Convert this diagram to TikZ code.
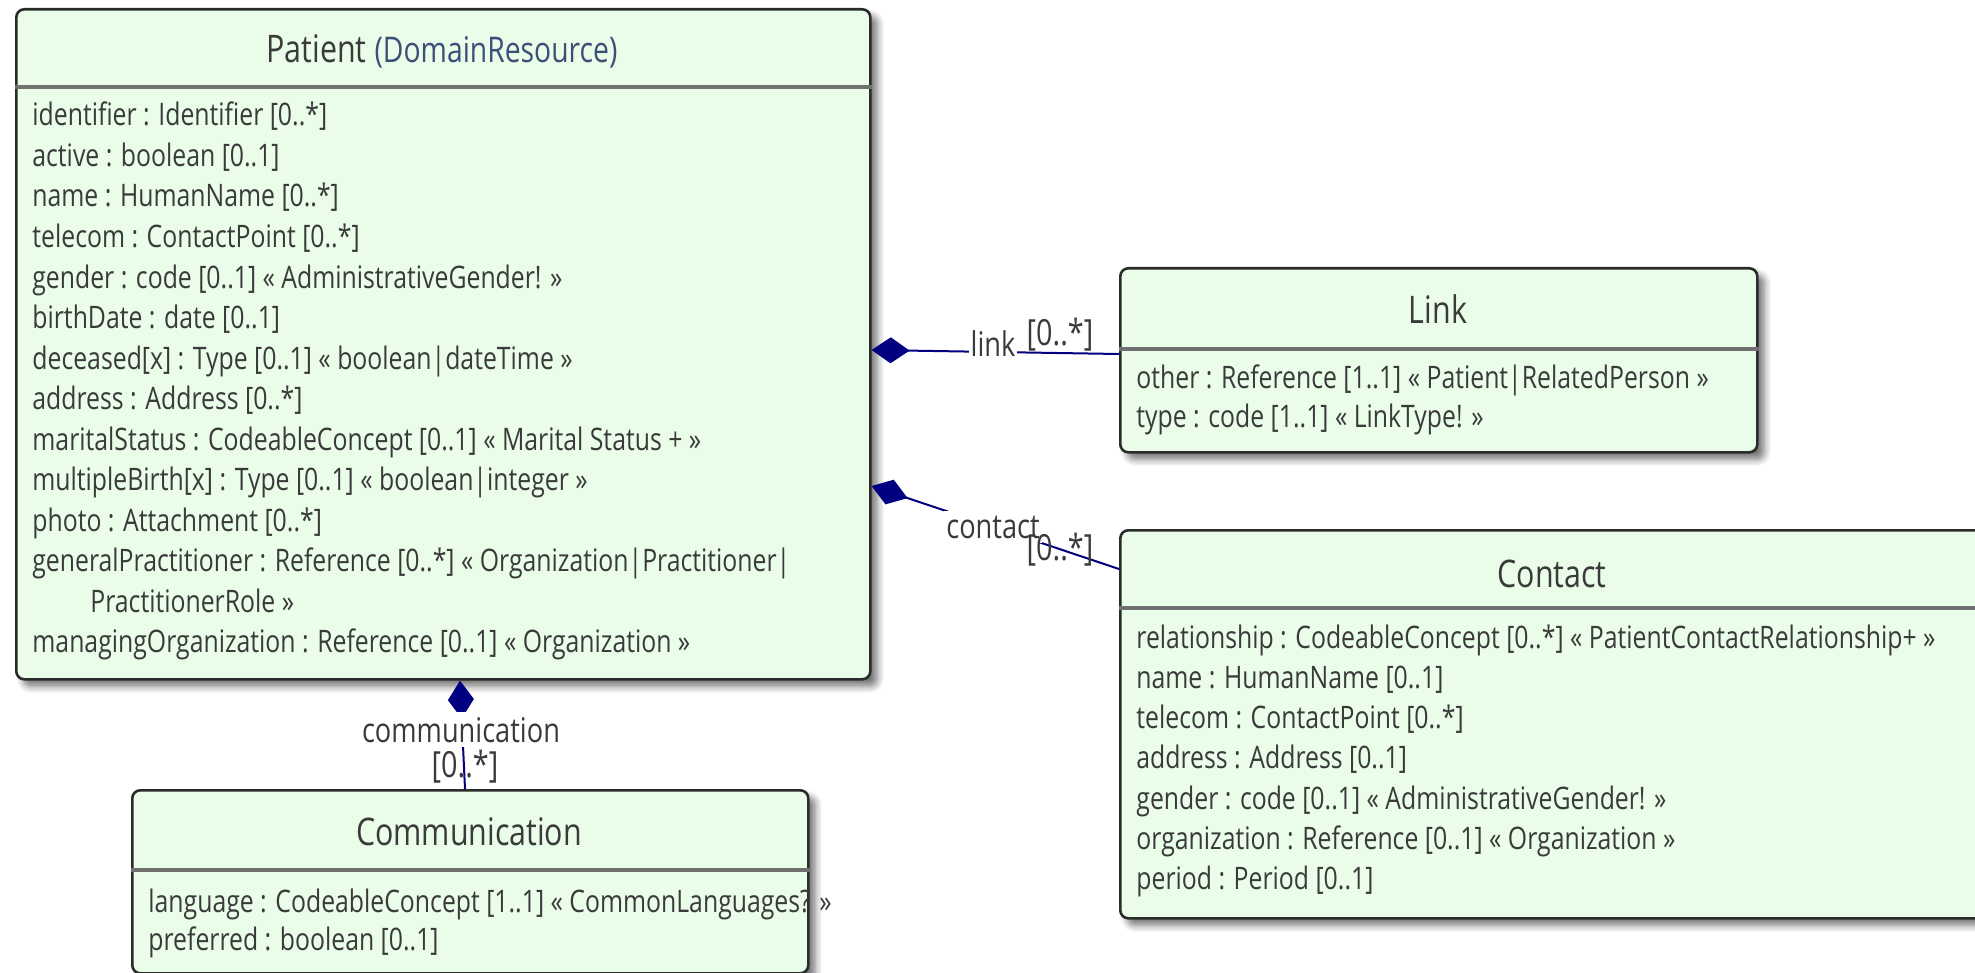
\documentclass[tikz,border=0pt]{standalone}
\usepackage{fontspec}
\setmainfont{Open Sans}[FakeStretch=0.8]
\usetikzlibrary{arrows.meta,shadows.blur,calc}

\definecolor{classfill}{HTML}{E9FDE9}
\definecolor{classline}{HTML}{2B2B2B}
\definecolor{sepline}{HTML}{707070}
\definecolor{ink}{HTML}{3A3A3A}
\definecolor{supertype}{HTML}{3B4F78}
\definecolor{assocline}{HTML}{000080}

\begin{document}
\begin{tikzpicture}[x=0.5pt,y=-0.5pt,
  classbox/.style={draw=classline, line width=1.3pt, fill=classfill,
    rounded corners=4pt, inner sep=0pt, anchor=north west,
    blur shadow={shadow xshift=3.5pt, shadow yshift=-3.5pt,
      shadow blur radius=3.5pt, shadow blur steps=6, shadow opacity=55}},
  separator/.style={draw=sepline, line width=1.6pt},
  classtitle/.style={anchor=base, inner sep=0pt, text=ink,
    font=\fontsize{19}{23}\selectfont},
  attr/.style={anchor=base west, inner sep=0pt, text=ink,
    font=\fontsize{15.5}{18}\selectfont},
  assoc/.style={draw=assocline, line width=1pt,
    {Diamond[length=19pt,width=13pt,sep=0pt]}-, fill=none},
  rolename/.style={anchor=base, fill=white, inner xsep=1pt, inner ysep=2.5pt,
    text=ink, font=\fontsize{17}{20}\selectfont},
  mult/.style={anchor=base, inner sep=0pt, text=ink,
    font=\fontsize{18}{21}\selectfont},
]
\useasboundingbox (0,0) rectangle (1975,973);
\clip (0,0) rectangle (1975,973);

% ---------- class boxes ----------
\node[classbox, minimum width=427pt,   minimum height=335pt] (patient) at (15,8) {};
\node[classbox, minimum width=318.5pt, minimum height=92pt]  (link)    at (1119,267) {};
\node[classbox, minimum width=436pt,   minimum height=194pt] (contact) at (1119,529) {};
\node[classbox, minimum width=338pt,   minimum height=91.5pt] (communication) at (131,789) {};

% header/body separators
\draw[separator] ($(patient.north west)+(0,79)$) -- ($(patient.north east)+(0,79)$);
\draw[separator] ($(link.north west)+(0,82)$) -- ($(link.north east)+(0,82)$);
\draw[separator] ($(contact.north west)+(0,79)$) -- ($(contact.north east)+(0,79)$);
\draw[separator] ($(communication.north west)+(0,81)$) -- ($(communication.north east)+(0,81)$);

% ---------- titles ----------
\node[classtitle] (patient-title) at (442,63)
  {Patient {\fontsize{17.7}{21}\selectfont\color{supertype}(DomainResource)}};
\node[classtitle] (link-title) at (1438,323) {Link};
\node[classtitle] (contact-title) at (1552,587) {Contact};
\node[classtitle] (communication-title) at (469,845) {Communication};

% ---------- attributes ----------
\foreach \t [count=\k] in {
  {identifier : Identifier [0..*]},
  {active : boolean [0..1]},
  {name : HumanName [0..*]},
  {telecom : ContactPoint [0..*]},
  {gender : code [0..1] « AdministrativeGender! »},
  {birthDate : date [0..1]},
  {deceased[x] : Type [0..1] « boolean|dateTime »},
  {address : Address [0..*]},
  {maritalStatus : CodeableConcept [0..1] « Marital Status + »},
  {multipleBirth[x] : Type [0..1] « boolean|integer »},
  {photo : Attachment [0..*]},
  {generalPractitioner : Reference [0..*] « Organization|Practitioner|},
  {\hspace*{29pt}PractitionerRole »},
  {managingOrganization : Reference [0..1] « Organization »}}
  \node[attr] (patient-a\k) at (32,{126+40.5*(\k-1)}) {\t};

\foreach \t [count=\k] in {
  {other : Reference [1..1] « Patient|RelatedPerson »},
  {type : code [1..1] « LinkType! »}}
  \node[attr] (link-a\k) at (1136,{388+39*(\k-1)}) {\t};

\foreach \t [count=\k] in {
  {relationship : CodeableConcept [0..*] « PatientContactRelationship+ »},
  {name : HumanName [0..1]},
  {telecom : ContactPoint [0..*]},
  {address : Address [0..1]},
  {gender : code [0..1] « AdministrativeGender! »},
  {organization : Reference [0..1] « Organization »},
  {period : Period [0..1]}}
  \node[attr] (contact-a\k) at (1136,{648+40.3*(\k-1)}) {\t};

\foreach \t [count=\k] in {
  {language : CodeableConcept [1..1] « CommonLanguages? »},
  {preferred : boolean [0..1]}}
  \node[attr] (communication-a\k) at (148,{912+38*(\k-1)}) {\t};

% ---------- composition associations ----------
\coordinate (linkA) at (0,350);
\coordinate (linkB) at (0,354);
\coordinate (contactA) at (0,486);
\coordinate (contactB) at (0,569);
\coordinate (commA) at (460,0);
\coordinate (commB) at (465,0);

\draw[assoc] (patient.east |- linkA) -- (link.west |- linkB);
\draw[assoc] (patient.east |- contactA) -- (contact.west |- contactB);
\draw[assoc] (patient.south -| commA) -- (communication.north -| commB);

% role names and multiplicities
\node[rolename] (link-role) at (993,356) {link};
\node[mult] (link-mult) at (1060,345) {[0..*]};
\node[rolename] (contact-role) at (993,538) {contact};
\node[mult] (contact-mult) at (1060,560) {[0..*]};
\node[rolename] (communication-role) at (461,742) {communication};
\node[mult] (communication-mult) at (465,777) {[0..*]};
\end{tikzpicture}
\end{document}
